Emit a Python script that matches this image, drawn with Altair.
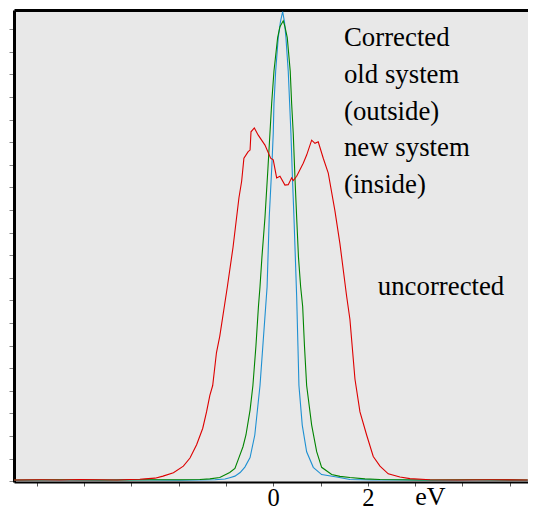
import altair as alt
import pandas as pd

# ---- data (energy in eV, intensity in tick units) ----
blue_x = [-5.48, -4.6, -3.66, -3.1, -2.61, -2.0, -1.55, -1.23, -1.02, -0.92, -0.81, -0.70, -0.60,
          -0.49, -0.39, -0.28, -0.22, -0.16, -0.13, -0.085, -0.027, 0.0, 0.015, 0.051, 0.106,
          0.152, 0.199, 0.237, 0.268, 0.317, 0.347, 0.374, 0.406, 0.438, 0.495, 0.522, 0.543,
          0.613, 0.706, 0.846, 1.023, 1.34, 1.621, 2.1, 2.678, 3.4, 4.3, 5.38]
blue_y = [0.04, 0.05, 0.04, 0.06, 0.05, 0.04, 0.05, 0.06, 0.09, 0.15, 0.22, 0.38, 0.62,
          1.04, 2.04, 4.23, 5.98, 7.73, 8.60, 11.67, 14.07, 15.38, 16.70, 18.14, 19.63,
          20.33, 20.78, 20.33, 19.63, 18.14, 16.70, 15.38, 13.42, 11.67, 8.17, 5.98, 4.23,
          2.48, 1.30, 0.61, 0.29, 0.18, 0.07, 0.05, 0.05, 0.04, 0.05, 0.04]

green_x = [-5.48, -4.5, -3.5, -2.6, -1.97, -1.55, -1.34, -1.13, -0.92, -0.81, -0.725, -0.64,
           -0.577, -0.49, -0.43, -0.366, -0.313, -0.28, -0.239, -0.175, -0.112, -0.07, -0.034,
           0.015, 0.093, 0.142, 0.211, 0.247, 0.296, 0.359, 0.389, 0.423, 0.459, 0.495, 0.533,
           0.579, 0.622, 0.66, 0.706, 0.812, 0.918, 1.023, 1.235, 1.41, 1.621, 1.939, 2.256,
           3.1, 4.2, 5.38]
green_y = [0.05, 0.06, 0.05, 0.06, 0.06, 0.07, 0.10, 0.16, 0.38, 0.56, 1.04, 1.52,
           2.04, 3.14, 4.23, 5.98, 7.73, 8.60, 9.92, 11.67, 13.85, 15.38, 16.70,
           18.14, 19.63, 20.11, 20.37, 20.11, 19.63, 18.14, 16.70, 15.38, 13.42, 11.67, 9.92,
           8.60, 7.73, 5.98, 4.23, 2.48, 1.30, 0.61, 0.29, 0.21, 0.16, 0.10, 0.07,
           0.05, 0.06, 0.05]

red_x = [-5.48, -4.9, -4.51, -4.1, -3.66, -3.3, -3.03, -2.82, -2.71, -2.50, -2.33, -2.11,
         -1.90, -1.76, -1.62, -1.49, -1.41, -1.34, -1.28, -1.20, -1.13, -0.97, -0.85, -0.725,
         -0.668, -0.62, -0.53, -0.49, -0.47, -0.40, -0.317, -0.175, -0.055, 0.0, 0.072, 0.142,
         0.247, 0.317, 0.389, 0.423, 0.495, 0.634, 0.706, 0.812, 0.882, 0.951, 1.057, 1.163,
         1.304, 1.41, 1.552, 1.621, 1.727, 1.833, 1.974, 2.114, 2.256, 2.431, 2.678, 2.89,
         3.313, 3.9, 4.6, 5.38]
red_y = [0.05, 0.06, 0.05, 0.07, 0.06, 0.05, 0.07, 0.08, 0.10, 0.13, 0.22, 0.37,
         0.66, 1.02, 1.61, 2.34, 3.06, 3.79, 4.23, 5.69, 6.42, 8.60, 10.35, 12.54,
         13.27, 14.29, 14.58, 14.65, 15.46, 15.63, 15.31, 14.87, 14.29, 14.22, 13.42, 13.49,
         13.10, 13.12, 13.42, 13.30, 13.49, 14.07, 14.43, 15.09, 14.95, 15.02, 14.29, 13.63,
         11.96, 10.50, 8.17, 7.15, 4.52, 3.06, 2.04, 1.09, 0.66, 0.32, 0.18, 0.11,
         0.06, 0.05, 0.06, 0.05]

notes = ["Corrected", "old system", "(outside)", "new system", "(inside)", "uncorrected"]
note_x = [1.495, 1.495, 1.495, 1.495, 1.495, 2.21]
note_y = [19.25, 17.60, 15.99, 14.38, 12.77, 8.25]

unit_label = ["eV"]
unit_x = [3.0]
unit_y = [-1.06]

x_ticks = list(range(-5, 6))
y_ticks = list(range(0, 21))

rows = []
for name, xs, ys in [("blue", blue_x, blue_y), ("green", green_x, green_y), ("red", red_x, red_y)]:
    for i, (a, b) in enumerate(zip(xs, ys)):
        rows.append({"series": name, "ev": a, "counts": b, "idx": i})
df = pd.DataFrame(rows)
ann = pd.DataFrame({"label": notes, "ev": note_x, "counts": note_y})
unit_df = pd.DataFrame({"label": unit_label, "ev": unit_x, "counts": unit_y})

SERIF = "Liberation Serif"

x_scale = alt.Scale(domain=[-5.48, 5.385], nice=False, zero=False)
y_scale = alt.Scale(domain=[-0.04, 20.85], nice=False, zero=False)

x_axis = alt.Axis(values=x_ticks, title=None, grid=False, domainColor="black", domainWidth=2,
                  tickColor="#555555", tickSize=4, tickWidth=1,
                  labelExpr="datum.value == 0 || datum.value == 2 ? datum.label : ''",
                  labelFont=SERIF, labelFontSize=24.5, labelColor="black",
                  labelBaseline="alphabetic", labelPadding=19,
                  labelFlush=False, labelOverlap=False)
y_axis = alt.Axis(values=y_ticks, title=None, labels=False, grid=False, domainColor="black",
                  domainWidth=3, tickColor="#888888", tickSize=5, tickWidth=1)
top_axis = alt.Axis(orient="top", title=None, labels=False, ticks=False, grid=False,
                    domainColor="black", domainWidth=3)

colors = {"blue": "#1e90d2", "green": "#008400", "red": "#dd0000"}


def line(name):
    return alt.Chart(df).transform_filter(alt.datum.series == name).mark_line(
        color=colors[name], strokeWidth=1.1
    ).encode(
        x=alt.X("ev:Q", scale=x_scale, axis=x_axis),
        y=alt.Y("counts:Q", scale=y_scale, axis=y_axis),
        order="idx:Q",
    )


lines = alt.layer(line("blue"), line("green"), line("red"))

notes_layer = alt.Chart(ann).mark_text(align="left", baseline="alphabetic", font=SERIF,
                                       fontSize=26.8, color="black").encode(
    x=alt.X("ev:Q", scale=x_scale, axis=top_axis),
    y=alt.Y("counts:Q", scale=y_scale, axis=y_axis),
    text="label:N",
)
unit_layer = alt.Chart(unit_df).mark_text(align="left", baseline="alphabetic", font=SERIF,
                                          fontSize=26, color="black").encode(
    x=alt.X("ev:Q", scale=x_scale, axis=top_axis),
    y=alt.Y("counts:Q", scale=y_scale, axis=y_axis),
    text="label:N",
)
texts = alt.layer(notes_layer, unit_layer)

chart = alt.layer(lines, texts).resolve_axis(x="independent").properties(
    width=514, height=472,
    autosize=alt.AutoSizeParams(type="none"),
    padding={"left": 6, "top": 2, "right": 0, "bottom": 30},
    background="white",
).configure_view(fill="#e8e8e8", stroke=None)

chart.save("out.html", embed_options={"renderer": "svg", "actions": False})
